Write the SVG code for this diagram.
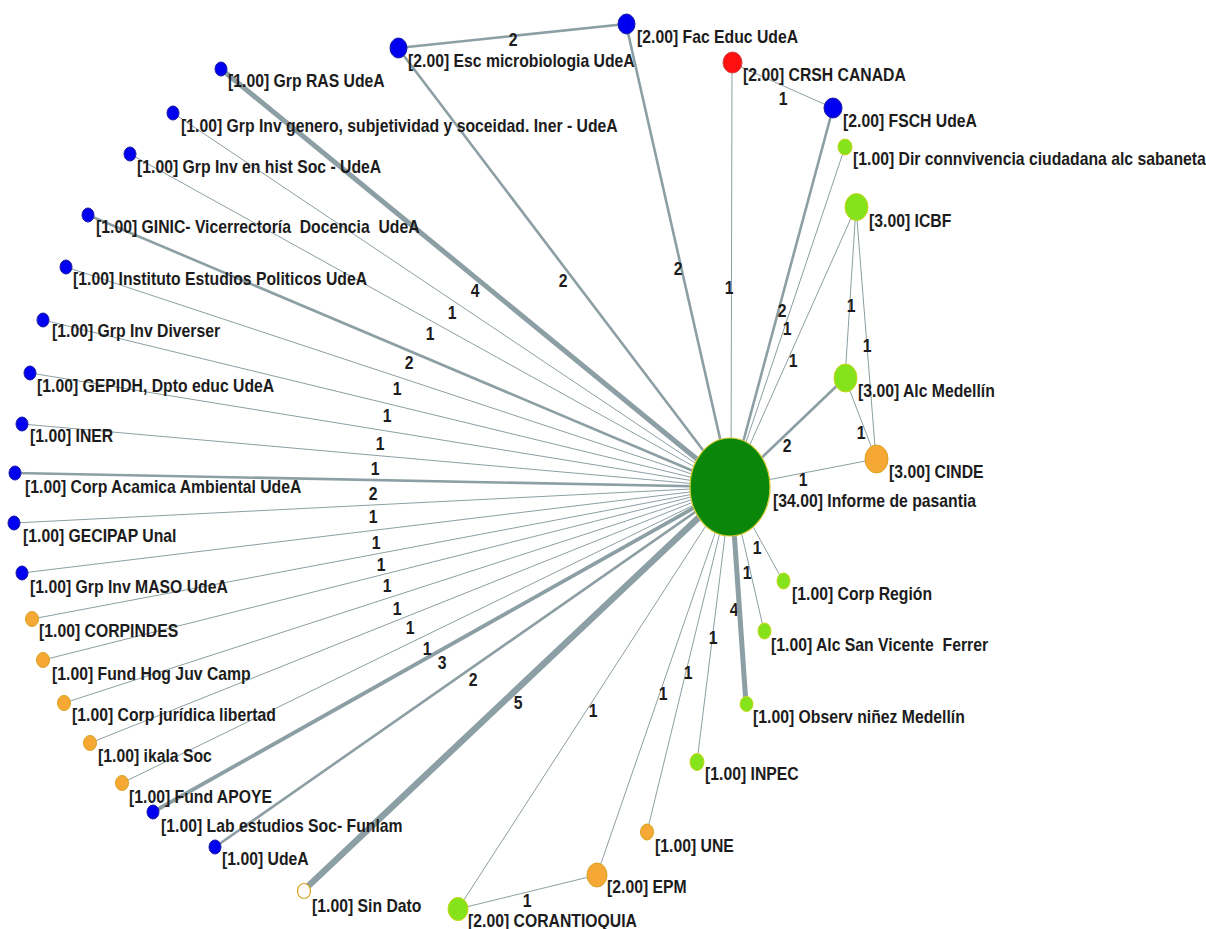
<svg xmlns="http://www.w3.org/2000/svg" width="1206" height="929" viewBox="0 0 1206 929">
<style>
.e{stroke:#8c9fa4;fill:none;stroke-linecap:round}
.w1{stroke-width:1}
.w2{stroke-width:2.6}
.w3{stroke-width:3.8}
.w4{stroke-width:5}
.w5{stroke-width:6.5}
text{font-family:"Liberation Sans",Arial,sans-serif;font-weight:bold;font-size:19px;fill:#1c1c1c;white-space:pre}
.w{text-anchor:middle}
.blue{fill:#0000f0;stroke:#1a1aa0;stroke-width:1}
.lime{fill:#84e31b;stroke:#c9d41c;stroke-width:1}
.orange{fill:#f5a833;stroke:#d9a21e;stroke-width:1}
.red{fill:#ff1010;stroke:#d04040;stroke-width:1}
.hollow{fill:#ffffff;stroke:#d9a21e;stroke-width:1.2}
.hub{fill:#0a870a;stroke:#d0c830;stroke-width:1.2}
</style>
<rect width="1206" height="929" fill="#ffffff"/>
<g id="connectors">
<line class="e w4" x1="221" y1="69" x2="731" y2="487"/>
<line class="e w1" x1="173" y1="113" x2="731" y2="487"/>
<line class="e w1" x1="130" y1="154" x2="731" y2="487"/>
<line class="e w2" x1="88" y1="215" x2="731" y2="487"/>
<line class="e w1" x1="66" y1="267" x2="731" y2="487"/>
<line class="e w1" x1="43" y1="320" x2="731" y2="487"/>
<line class="e w1" x1="30" y1="373" x2="731" y2="487"/>
<line class="e w1" x1="22" y1="424" x2="731" y2="487"/>
<line class="e w2" x1="15" y1="473" x2="731" y2="487"/>
<line class="e w1" x1="14" y1="523" x2="731" y2="487"/>
<line class="e w1" x1="22" y1="573" x2="731" y2="487"/>
<line class="e w1" x1="32" y1="619" x2="731" y2="487"/>
<line class="e w1" x1="43" y1="660" x2="731" y2="487"/>
<line class="e w1" x1="64" y1="703" x2="731" y2="487"/>
<line class="e w1" x1="90" y1="743" x2="731" y2="487"/>
<line class="e w1" x1="122" y1="783" x2="731" y2="487"/>
<line class="e w3" x1="153" y1="812" x2="731" y2="487"/>
<line class="e w2" x1="215" y1="847" x2="731" y2="487"/>
<line class="e w5" x1="303" y1="891" x2="731" y2="487"/>
<line class="e w1" x1="458" y1="909" x2="731" y2="487"/>
<line class="e w1" x1="597" y1="875" x2="731" y2="487"/>
<line class="e w1" x1="647" y1="832" x2="731" y2="487"/>
<line class="e w1" x1="697" y1="762" x2="731" y2="487"/>
<line class="e w1" x1="764" y1="631" x2="731" y2="487"/>
<line class="e w1" x1="783" y1="581" x2="731" y2="487"/>
<line class="e w1" x1="876" y1="459" x2="731" y2="487"/>
<line class="e w2" x1="845" y1="378" x2="731" y2="487"/>
<line class="e w1" x1="856" y1="207" x2="731" y2="487"/>
<line class="e w1" x1="845" y1="147" x2="731" y2="487"/>
<line class="e w2" x1="833" y1="108" x2="731" y2="487"/>
<line class="e w1" x1="732" y1="63" x2="731" y2="487"/>
<line class="e w2" x1="626" y1="24" x2="731" y2="487"/>
<line class="e w2" x1="398" y1="48" x2="731" y2="487"/>
<line class="e w2" x1="398" y1="48" x2="626" y2="24"/>
<line class="e w1" x1="732" y1="63" x2="833" y2="108"/>
<line class="e w1" x1="856" y1="207" x2="845" y2="378"/>
<line class="e w1" x1="856" y1="207" x2="876" y2="459"/>
<line class="e w1" x1="845" y1="378" x2="876" y2="459"/>
<line class="e w1" x1="458" y1="909" x2="597" y2="875"/>
<text class="w" transform="translate(734,616) scale(0.83,1)">4</text>
<line class="e w4" x1="746" y1="704" x2="731" y2="487"/>
<g id="edge-labels">
<text class="w" transform="translate(475,297) scale(0.83,1)">4</text>
<text class="w" transform="translate(452,319) scale(0.83,1)">1</text>
<text class="w" transform="translate(430,340) scale(0.83,1)">1</text>
<text class="w" transform="translate(409,369) scale(0.83,1)">2</text>
<text class="w" transform="translate(397,395) scale(0.83,1)">1</text>
<text class="w" transform="translate(387,422) scale(0.83,1)">1</text>
<text class="w" transform="translate(380,450) scale(0.83,1)">1</text>
<text class="w" transform="translate(375,475) scale(0.83,1)">1</text>
<text class="w" transform="translate(373,500) scale(0.83,1)">2</text>
<text class="w" transform="translate(373,523) scale(0.83,1)">1</text>
<text class="w" transform="translate(376,549) scale(0.83,1)">1</text>
<text class="w" transform="translate(381,571) scale(0.83,1)">1</text>
<text class="w" transform="translate(387,592) scale(0.83,1)">1</text>
<text class="w" transform="translate(397,615) scale(0.83,1)">1</text>
<text class="w" transform="translate(410,634) scale(0.83,1)">1</text>
<text class="w" transform="translate(427,655) scale(0.83,1)">1</text>
<text class="w" transform="translate(442,669) scale(0.83,1)">3</text>
<text class="w" transform="translate(473,686) scale(0.83,1)">2</text>
<text class="w" transform="translate(518,709) scale(0.83,1)">5</text>
<text class="w" transform="translate(593,717) scale(0.83,1)">1</text>
<text class="w" transform="translate(663,700) scale(0.83,1)">1</text>
<text class="w" transform="translate(688,679) scale(0.83,1)">1</text>
<text class="w" transform="translate(713,644) scale(0.83,1)">1</text>
<text class="w" transform="translate(747,579) scale(0.83,1)">1</text>
<text class="w" transform="translate(757,554) scale(0.83,1)">1</text>
<text class="w" transform="translate(803,486) scale(0.83,1)">1</text>
<text class="w" transform="translate(787,452) scale(0.83,1)">2</text>
<text class="w" transform="translate(793,367) scale(0.83,1)">1</text>
<text class="w" transform="translate(787,335) scale(0.83,1)">1</text>
<text class="w" transform="translate(782,317) scale(0.83,1)">2</text>
<text class="w" transform="translate(729,294) scale(0.83,1)">1</text>
<text class="w" transform="translate(678,275) scale(0.83,1)">2</text>
<text class="w" transform="translate(563,287) scale(0.83,1)">2</text>
<text class="w" transform="translate(513,46) scale(0.83,1)">2</text>
<text class="w" transform="translate(783,105) scale(0.83,1)">1</text>
<text class="w" transform="translate(851,312) scale(0.83,1)">1</text>
<text class="w" transform="translate(867,352) scale(0.83,1)">1</text>
<text class="w" transform="translate(861,439) scale(0.83,1)">1</text>
<text class="w" transform="translate(527,907) scale(0.83,1)">1</text>
</g>
</g>
<g id="n-hub"><ellipse class="hub" cx="730" cy="487" rx="40" ry="49"/><text transform="translate(773,507) scale(0.83,1)">[34.00] Informe de pasantia</text></g>
<g id="n-ras"><ellipse class="blue" cx="221" cy="69" rx="6" ry="7"/><text transform="translate(228,87) scale(0.83,1)">[1.00] Grp RAS UdeA</text></g>
<g id="n-genero"><ellipse class="blue" cx="173" cy="113" rx="6" ry="7"/><text transform="translate(181,132) scale(0.83,1)">[1.00] Grp Inv genero, subjetividad y soceidad. Iner - UdeA</text></g>
<g id="n-hist"><ellipse class="blue" cx="130" cy="154" rx="6" ry="7"/><text transform="translate(137,173) scale(0.83,1)">[1.00] Grp Inv en hist Soc - UdeA</text></g>
<g id="n-ginic"><ellipse class="blue" cx="88" cy="215" rx="6" ry="7"/><text transform="translate(96,233) scale(0.83,1)">[1.00] GINIC- Vicerrectoría  Docencia  UdeA</text></g>
<g id="n-instituto"><ellipse class="blue" cx="66" cy="267" rx="6" ry="7"/><text transform="translate(73,285) scale(0.83,1)">[1.00] Instituto Estudios Politicos UdeA</text></g>
<g id="n-diverser"><ellipse class="blue" cx="43" cy="320" rx="6" ry="7"/><text transform="translate(52,337) scale(0.83,1)">[1.00] Grp Inv Diverser</text></g>
<g id="n-gepidh"><ellipse class="blue" cx="30" cy="373" rx="6" ry="7"/><text transform="translate(37,392) scale(0.83,1)">[1.00] GEPIDH, Dpto educ UdeA</text></g>
<g id="n-iner"><ellipse class="blue" cx="22" cy="424" rx="6" ry="7"/><text transform="translate(30,442) scale(0.83,1)">[1.00] INER</text></g>
<g id="n-acamica"><ellipse class="blue" cx="15" cy="473" rx="6" ry="7"/><text transform="translate(25,493) scale(0.83,1)">[1.00] Corp Acamica Ambiental UdeA</text></g>
<g id="n-gecipap"><ellipse class="blue" cx="14" cy="523" rx="6" ry="7"/><text transform="translate(23,542) scale(0.83,1)">[1.00] GECIPAP Unal</text></g>
<g id="n-maso"><ellipse class="blue" cx="22" cy="573" rx="6" ry="7"/><text transform="translate(30,593) scale(0.83,1)">[1.00] Grp Inv MASO UdeA</text></g>
<g id="n-corpindes"><ellipse class="orange" cx="32" cy="619" rx="6.5" ry="7.5"/><text transform="translate(39,637) scale(0.83,1)">[1.00] CORPINDES</text></g>
<g id="n-fundhog"><ellipse class="orange" cx="43" cy="660" rx="6.5" ry="7.5"/><text transform="translate(52,680) scale(0.83,1)">[1.00] Fund Hog Juv Camp</text></g>
<g id="n-juridica"><ellipse class="orange" cx="64" cy="703" rx="6.5" ry="7.5"/><text transform="translate(72,721) scale(0.83,1)">[1.00] Corp jurídica libertad</text></g>
<g id="n-ikala"><ellipse class="orange" cx="90" cy="743" rx="6.5" ry="7.5"/><text transform="translate(98,762) scale(0.83,1)">[1.00] ikala Soc</text></g>
<g id="n-apoye"><ellipse class="orange" cx="122" cy="783" rx="6.5" ry="7.5"/><text transform="translate(129,803) scale(0.83,1)">[1.00] Fund APOYE</text></g>
<g id="n-lab"><ellipse class="blue" cx="153" cy="812" rx="6" ry="7"/><text transform="translate(161,832) scale(0.83,1)">[1.00] Lab estudios Soc- Funlam</text></g>
<g id="n-udea"><ellipse class="blue" cx="215" cy="847" rx="6" ry="7"/><text transform="translate(222,865) scale(0.83,1)">[1.00] UdeA</text></g>
<g id="n-sindato"><ellipse class="hollow" cx="304" cy="891" rx="6.5" ry="7.5"/><text transform="translate(312,912) scale(0.83,1)">[1.00] Sin Dato</text></g>
<g id="n-corantioquia"><ellipse class="lime" cx="458" cy="909" rx="10" ry="11.5"/><text transform="translate(468,927) scale(0.83,1)">[2.00] CORANTIOQUIA</text></g>
<g id="n-epm"><ellipse class="orange" cx="597" cy="875" rx="10" ry="12"/><text transform="translate(607,893) scale(0.83,1)">[2.00] EPM</text></g>
<g id="n-une"><ellipse class="orange" cx="647" cy="832" rx="6.5" ry="8"/><text transform="translate(655,852) scale(0.83,1)">[1.00] UNE</text></g>
<g id="n-inpec"><ellipse class="lime" cx="697" cy="762" rx="7" ry="8.5"/><text transform="translate(705,780) scale(0.83,1)">[1.00] INPEC</text></g>
<g id="n-observ"><ellipse class="lime" cx="746.5" cy="704" rx="6.5" ry="7.5"/><text transform="translate(753,723) scale(0.83,1)">[1.00] Observ niñez Medellín</text></g>
<g id="n-sanvicente"><ellipse class="lime" cx="764.5" cy="631" rx="6.5" ry="8"/><text transform="translate(771,651) scale(0.83,1)">[1.00] Alc San Vicente  Ferrer</text></g>
<g id="n-corpregion"><ellipse class="lime" cx="783.5" cy="581" rx="6.5" ry="8"/><text transform="translate(792,600) scale(0.83,1)">[1.00] Corp Región</text></g>
<g id="n-cinde"><ellipse class="orange" cx="876.5" cy="459" rx="11.5" ry="14"/><text transform="translate(889,478) scale(0.83,1)">[3.00] CINDE</text></g>
<g id="n-alcmedellin"><ellipse class="lime" cx="845.5" cy="378" rx="11.5" ry="14"/><text transform="translate(858,397) scale(0.83,1)">[3.00] Alc Medellín</text></g>
<g id="n-icbf"><ellipse class="lime" cx="856.5" cy="207" rx="11.5" ry="13.5"/><text transform="translate(869,227) scale(0.83,1)">[3.00] ICBF</text></g>
<g id="n-dirconv"><ellipse class="lime" cx="845" cy="147" rx="7" ry="8"/><text transform="translate(853,165) scale(0.83,1)">[1.00] Dir connvivencia ciudadana alc sabaneta</text></g>
<g id="n-fsch"><ellipse class="blue" cx="833" cy="108" rx="9" ry="10"/><text transform="translate(843,127) scale(0.83,1)">[2.00] FSCH UdeA</text></g>
<g id="n-crsh"><ellipse class="red" cx="732.5" cy="62.5" rx="9.5" ry="10.5"/><text transform="translate(743,81) scale(0.83,1)">[2.00] CRSH CANADA</text></g>
<g id="n-faceduc"><ellipse class="blue" cx="626.5" cy="24" rx="8.5" ry="10"/><text transform="translate(637,43) scale(0.83,1)">[2.00] Fac Educ UdeA</text></g>
<g id="n-escmicro"><ellipse class="blue" cx="398.5" cy="48" rx="8.5" ry="10"/><text transform="translate(408,67) scale(0.83,1)">[2.00] Esc microbiologia UdeA</text></g>
</svg>
